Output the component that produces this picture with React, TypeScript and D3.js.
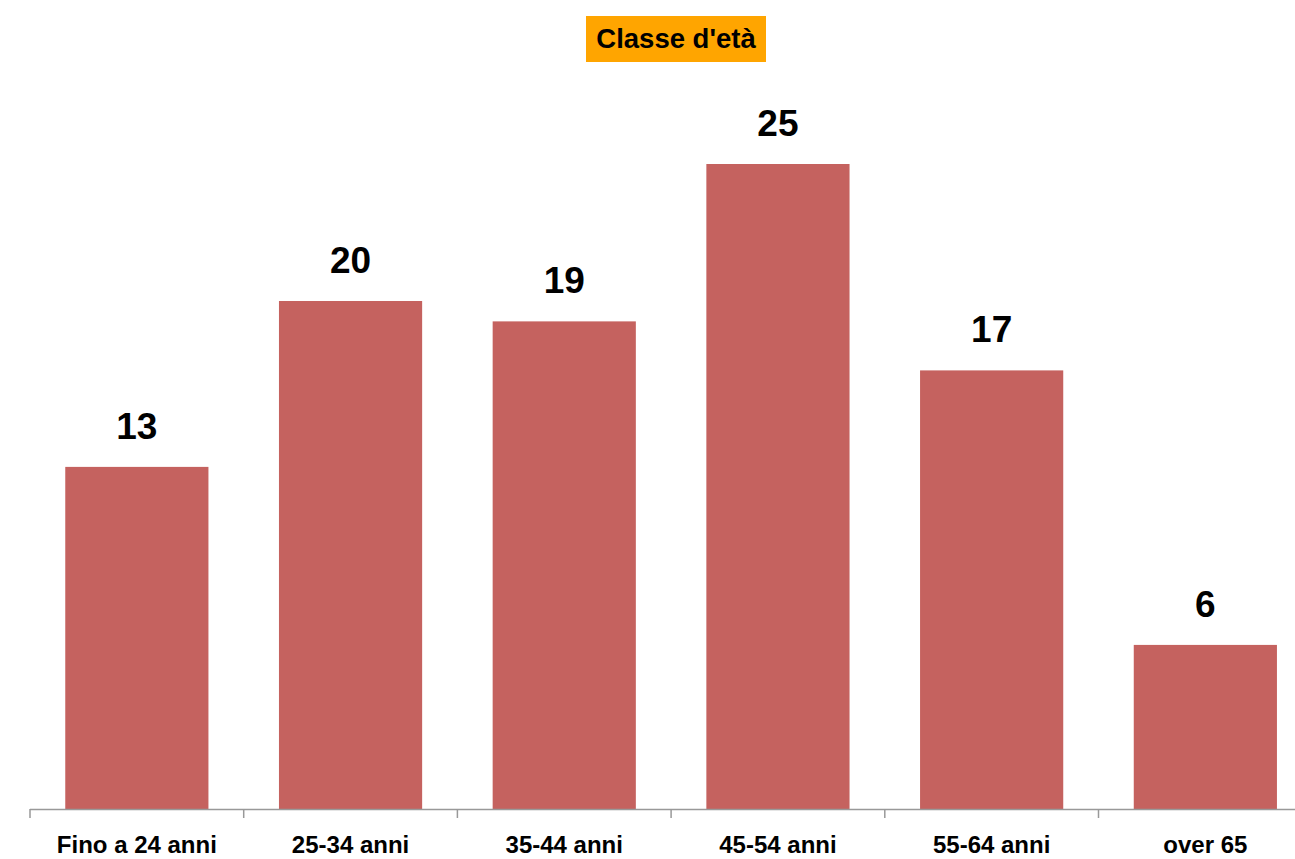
import React from "react";
import * as d3 from "d3";

const categories = ["Fino a 24 anni", "25-34 anni", "35-44 anni", "45-54 anni", "55-64 anni", "over 65"];
const values = [13.26, 19.69, 18.9, 25.0, 17.0, 6.36];
const title = "Classe d'età";

const W = 1295;
const H = 859;
const FONT = "'Liberation Sans', Arial, sans-serif";

export default function App() {
  const x = d3.scaleBand<string>().domain(categories).range([30, 30 + 6 * 213.7]).paddingInner(0.33).paddingOuter(0.165);
  const y = d3.scaleLinear().domain([0, 25]).range([809, 164]);
  const step = x.step();
  const fmt = d3.format(".0f");
  return (
    <svg width={W} height={H} style={{ position: "absolute", left: 0, top: 0, background: "#fff" }} fontFamily={FONT}>
      <rect x={586} y={16} width={180} height={46} fill="#FFA500" />
      <text x={676} y={48} textAnchor="middle" fontSize={27.5} fontWeight="bold" fill="#000">{title}</text>
      {categories.map((c, i) => (
        <g key={c}>
          <rect x={x(c)} y={y(values[i])} width={x.bandwidth()} height={y(0) - y(values[i])} fill="#C5625F" />
          <text x={(x(c) as number) + x.bandwidth() / 2} y={y(values[i]) - 28} textAnchor="middle" fontSize={37} fontWeight="bold" fill="#000">{fmt(values[i])}</text>
          <text x={(x(c) as number) + x.bandwidth() / 2} y={853} textAnchor="middle" fontSize={24} fontWeight="bold" fill="#000">{c}</text>
        </g>
      ))}
      <line x1={30} x2={W} y1={809.5} y2={809.5} stroke="#999" strokeWidth={1.5} />
      {d3.range(categories.length + 1).map((i) => (
        <line key={i} x1={30 + i * step} x2={30 + i * step} y1={809} y2={818} stroke="#999" strokeWidth={1.5} />
      ))}
    </svg>
  );
}
